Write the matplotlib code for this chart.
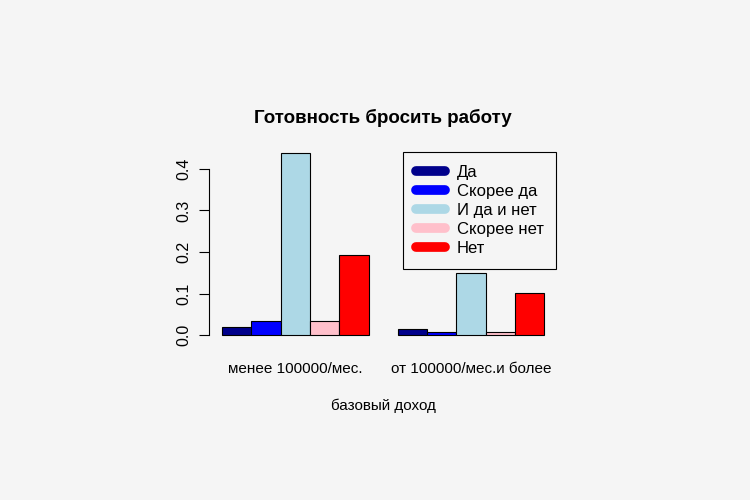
import numpy as np
import matplotlib.pyplot as plt
from matplotlib.lines import Line2D

plt.rcParams['font.family'] = ['Liberation Sans', 'DejaVu Sans']

groups = ['менее 100000/мес.', 'от 100000/мес.и более']
answers = ['Да', 'Скорее да', 'И да и нет', 'Скорее нет', 'Нет']
colors = ['#00008B', '#0000FF', '#ADD8E6', '#FFC0CB', '#FF0000']
values = {
    'Да':         [0.020, 0.014],
    'Скорее да':  [0.034, 0.0065],
    'И да и нет': [0.439, 0.150],
    'Скорее нет': [0.034, 0.0065],
    'Нет':        [0.192, 0.102],
}

bg = '#f5f5f5'
fig = plt.figure(figsize=(7.5, 5), dpi=100, facecolor=bg)
ax = fig.add_axes([0.279, 0.3154, 0.464, 0.3936], facecolor=bg)

n = len(answers)
for g in range(len(groups)):
    start = 1 + g * (n + 1)
    for i, a in enumerate(answers):
        ax.bar(start + i, values[a][g], width=1, align='edge',
               color=colors[i], edgecolor='black', linewidth=0.8)

xmax = len(groups) * (n + 1)
rng = xmax - 1
ax.set_xlim(1 - 0.04 * rng, xmax + 0.04 * rng)
top = max(max(v) for v in values.values())
ax.set_ylim(-0.04 * top, top * 1.04)

for s in ['top', 'right', 'bottom']:
    ax.spines[s].set_visible(False)
ax.spines['left'].set_bounds(0, 0.4)
ax.set_yticks([0.0, 0.1, 0.2, 0.3, 0.4])
ax.set_yticklabels(['0.0', '0.1', '0.2', '0.3', '0.4'], rotation=90, va='center')
ax.tick_params(axis='y', length=7, labelsize=11.5, pad=6)

centers = [1 + g * (n + 1) + n / 2 for g in range(len(groups))]
ax.set_xticks(centers)
ax.set_xticklabels(groups, fontsize=11)
ax.tick_params(axis='x', length=0, pad=14)

ax.set_xlabel('базовый доход', fontsize=11, labelpad=16.5)
ax.set_title('Готовность бросить работу', fontsize=13.5, fontweight='bold', pad=16.5)

handles = [Line2D([0], [0], color=c, lw=7, solid_capstyle='round') for c in colors]
leg = fig.legend(handles, answers, loc='upper right', bbox_to_anchor=(0.7413, 0.696),
                 borderaxespad=0, fancybox=False, edgecolor='black', facecolor=bg,
                 framealpha=1, fontsize=12, handlelength=1.75, labelspacing=0.25,
                 borderpad=0.75, handletextpad=0.7)
leg.get_frame().set_linewidth(0.8)

fig.savefig('out.png', dpi=100, facecolor=bg)
